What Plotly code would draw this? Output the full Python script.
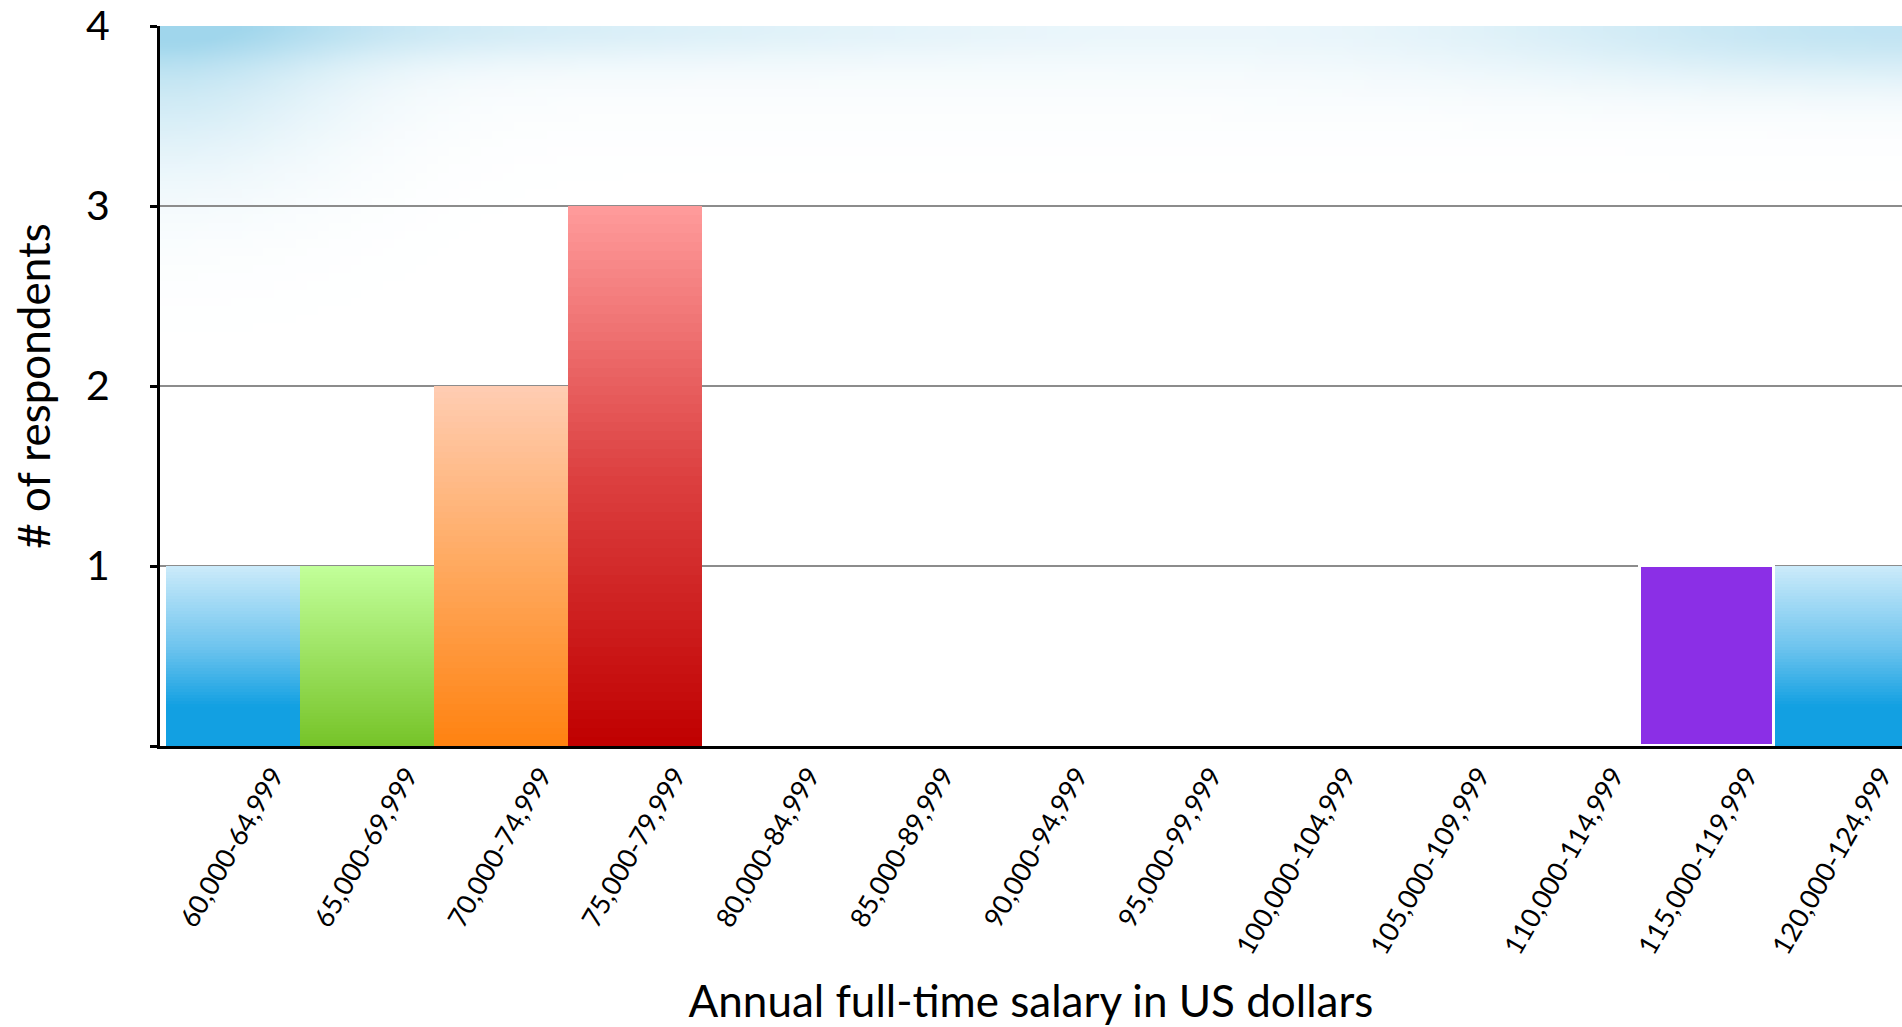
import base64, struct, zlib, math
import plotly.graph_objects as go

categories = ["60,000-64,999", "65,000-69,999", "70,000-74,999", "75,000-79,999",
              "80,000-84,999", "85,000-89,999", "90,000-94,999", "95,000-99,999",
              "100,000-104,999", "105,000-109,999", "110,000-114,999",
              "115,000-119,999", "120,000-124,999"]
counts = [1, 1, 2, 3, 0, 0, 0, 0, 0, 0, 0, 1, 1]
bar_style = ["blue", "green", "orange", "red", None, None, None, None, None, None, None,
             "purple", "blue"]
y_ticks = [0, 1, 2, 3, 4]
y_tick_text = ["", "1", "2", "3", "4"]

GRADIENTS = {
    "blue": [(0.0, (204, 235, 250)), (0.45, (110, 196, 238)), (0.78, (18, 160, 226)), (1.0, (18, 160, 226))],
    "green": [(0.0, (194, 255, 154)), (1.0, (118, 196, 40))],
    "orange": [(0.0, (255, 205, 179)), (0.5, (255, 169, 95)), (1.0, (255, 130, 16))],
    "red": [(0.0, (255, 156, 156)), (0.5, (220, 64, 64)), (1.0, (192, 0, 0))],
}
PURPLE = "#8B2FE6"
N = 60
W, H = 1902, 1027


def interp(stops, t):
    for (p0, c0), (p1, c1) in zip(stops[:-1], stops[1:]):
        if p0 <= t <= p1:
            f = (t - p0) / (p1 - p0) if p1 > p0 else 0
            return "rgb(%d,%d,%d)" % tuple(round(a + (b - a) * f) for a, b in zip(c0, c1))
    return "rgb(%d,%d,%d)" % stops[-1][1]


# background image (slide backdrop)
def make_bg(w=160, h=86):
    rows = []
    for j in range(h):
        row = bytearray([0])
        for i in range(w):
            x = (i + 0.5) / w * W
            y = (j + 0.5) / h * H
            wtl = 0.6 * math.exp(-((x / 200) ** 2 + (y / 200) ** 2))
            wtopl = 0.4 * math.exp(-(y / 50) ** 2) * math.exp(-(x / 900) ** 2)
            wtop = 0.1 * math.exp(-(y / 120) ** 2)
            wtr = 0.55 * math.exp(-(((W - x) / 450) ** 2 + (y / 80) ** 2))
            wv = min(1.0, wtl + wtopl + wtop + wtr)
            c = [round(255 * (1 - wv) + b * wv) for b in (160, 214, 236)]
            row += bytes(c)
        rows.append(bytes(row))
    raw = b"".join(rows)

    def chunk(t, d):
        return struct.pack(">I", len(d)) + t + d + struct.pack(">I", zlib.crc32(t + d) & 0xffffffff)
    png = b"\x89PNG\r\n\x1a\n" + chunk(b"IHDR", struct.pack(">IIBBBBB", w, h, 8, 2, 0, 0, 0))
    png += chunk(b"IDAT", zlib.compress(raw, 9)) + chunk(b"IEND", b"")
    return "data:image/png;base64," + base64.b64encode(png).decode()


fig = go.Figure()
for k in range(N):
    ys, cols = [], []
    for v, s in zip(counts, bar_style):
        if s in GRADIENTS and v > 0:
            ys.append(v / N)
            cols.append(interp(GRADIENTS[s], 1 - (k + 0.5) / N))
        else:
            ys.append(None)
            cols.append("rgba(0,0,0,0)")
    fig.add_trace(go.Bar(x=categories, y=ys, marker=dict(color=cols, line=dict(width=0)),
                         showlegend=False, hoverinfo="skip"))

fig.add_trace(go.Bar(x=categories,
                     y=[v if s == "purple" else None for v, s in zip(counts, bar_style)],
                     marker=dict(color=PURPLE, line=dict(color="white", width=3)),
                     showlegend=False))

FONT = "Lato"
fig.update_layout(
    width=W, height=H,
    margin=dict(l=160, r=0, t=26, b=281),
    barmode="stack", bargap=0,
    paper_bgcolor="white", plot_bgcolor="rgba(0,0,0,0)",
    images=[dict(source=make_bg(), xref="paper", yref="paper", x=0, y=1, sizex=1, sizey=1,
                 xanchor="left", yanchor="top", sizing="stretch", layer="below")],
    xaxis=dict(range=[-0.545, 12.455], tickangle=-60, tickfont=dict(family=FONT, size=27, color="black"),
               showline=True, linecolor="black", linewidth=3, ticks="", showgrid=False,
               ticklabelshift=40, automargin=False,
               title=dict(text="Annual full-time salary in US dollars",
                          font=dict(family=FONT, size=44, color="black"), standoff=28)),
    yaxis=dict(range=[0, 4], tickvals=y_ticks, ticktext=y_tick_text,
               tickfont=dict(family=FONT, size=41, color="black"), ticklabeloverflow="allow",
               showline=True, linecolor="black", linewidth=3, ticks="outside", ticklen=7,
               tickcolor="black", tickwidth=3, ticklabelstandoff=32, automargin=False,
               showgrid=True, gridcolor="#8c8c8c", gridwidth=2, zeroline=False,
               title=dict(text="# of respondents", font=dict(family=FONT, size=44, color="black"),
                          standoff=22)),
)

fig.write_html("out.html", config={"displayModeBar": False},
               post_script="document.body.style.margin='0';")
